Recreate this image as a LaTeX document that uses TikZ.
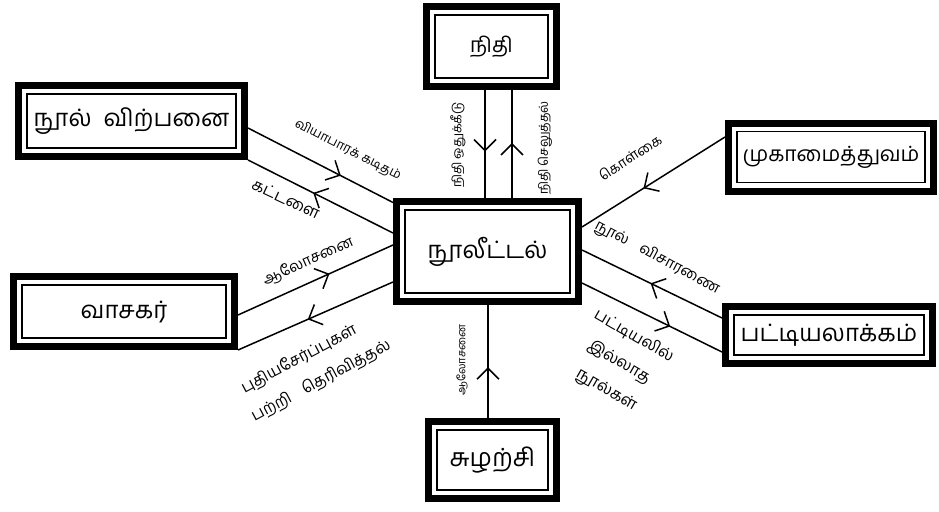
\documentclass[tikz,border=0pt]{standalone}
\usepackage{fontspec}
\newfontfamily\tamil[Script=Tamil]{Hind Madurai}
\usetikzlibrary{arrows.meta,decorations.markings,calc}
\newcommand{\fs}[1]{\tamil\fontsize{#1}{#1}\selectfont}
\tikzset{
  box/.style={draw=black, line width=7pt, inner sep=0pt,
    font=\fs{24},
    path picture={\draw[line width=1.6pt]
      ([shift={(8.5pt,8.5pt)}]path picture bounding box.south west) rectangle
      ([shift={(-8.5pt,-8.5pt)}]path picture bounding box.north east);}},
  conn/.style={line width=1.5pt},
  arr/.style={postaction={decorate}, decoration={markings,
    mark=at position #1 with {\arrow{Straight Barb[length=11pt,width=22pt,line width=1.5pt]}}}},
  lab/.style={inner sep=0pt, font=\fs{13}}
}
\begin{document}
\begin{tikzpicture}[x=1pt,y=-1pt]
\useasboundingbox (0,0) rectangle (939,511);
% boxes
\node[box, minimum width=130pt, minimum height=80pt, font=\fs{21}] (nidhi) at (491.5,46.5) {நிதி};
\node[box, minimum width=182pt, minimum height=100pt] (lib) at (487.5,251.5) {நூலீட்டல்};
\node[box, minimum width=226pt, minimum height=71pt] (vikr) at (131.5,121) {நூல்\hspace{12pt}விற்பனை};
\node[box, minimum width=205pt, minimum height=68pt, font=\fs{21}] (muk) at (831,157) {முகாமைத்துவம்};
\node[box, minimum width=221pt, minimum height=70pt] (vas) at (124,311.5) {வாசகர்};
\node[box, minimum width=207pt, minimum height=57pt] (pat) at (829,335) {பட்டியலாக்கம்};
\node[box, minimum width=128pt, minimum height=77pt, font=\fs{25}] (suz) at (492.5,460) {சுழற்சி};
% connectors
\draw[conn, arr=0.57] ($(nidhi.south)+(-6.5,0)$) -- ($(lib.north)+(-2.5,0)$);
\draw[conn, arr=0.51] ($(lib.north)+(24.5,0)$) -- ($(nidhi.south)+(20.5,0)$);
\draw[conn, arr=0.64] ($(vikr.east)+(0,7)$) -- ($(lib.west)+(0,-49)$);
\draw[conn, arr=0.55] ($(lib.west)+(0,-18.5)$) -- (vikr.south east);
\draw[conn, arr=0.57] ($(muk.west)+(0,-20)$) -- ($(lib.east)+(0,-24.5)$);
\draw[conn, arr=0.59] ($(vas.east)+(0,3.5)$) -- ($(lib.west)+(0,-6.5)$);
\draw[conn, arr=0.55] ($(lib.west)+(0,30.5)$) -- (vas.south east);
\draw[conn, arr=0.51] ($(pat.west)+(0,-17)$) -- ($(lib.east)+(0,-1.5)$);
\draw[conn, arr=0.63] ($(lib.east)+(0,31.5)$) -- ($(pat.west)+(0,17)$);
\draw[conn, arr=0.45] ($(suz.north)+(-4.5,0)$) -- ($(lib.south)+(0.5,0)$);
% labels
\node[lab, rotate=-27] (l1) at (348,150) {வியாபாரக் கடிதம்};
\node[lab, rotate=-25, font=\fs{16}] (l2) at (286,199) {கட்டளை};
\node[lab, rotate=90, font=\fs{12.5}] (l3) at (458,145) {நிதி ஒதுக்கீடு};
\node[lab, rotate=90, font=\fs{12.5}] (l4) at (545,148) {நிதி செலுத்தல்};
\node[lab, rotate=33, font=\fs{14}] (l5) at (630,157) {கொள்கை};
\node[lab, rotate=-28, font=\fs{15}] (l6) at (657,258) {நூல்\hspace{14pt}விசாரணை};
\node[lab, rotate=-30, font=\fs{16}] (l7) at (634,336) {பட்டியலில்};
\node[lab, rotate=-30, font=\fs{16}] (l8) at (619,362) {இல்லாத};
\node[lab, rotate=-30, font=\fs{16}] (l9) at (606,391) {நூல்கள்};
\node[lab, rotate=24, font=\fs{15}] (l10) at (308,261) {ஆலோசனை};
\node[lab, rotate=28, font=\fs{16}] (l11) at (299,359) {புதியசேர்ப்புகள்};
\node[lab, rotate=28, font=\fs{16}] (l12) at (321,381) {பற்றி\hspace{14pt}தெரிவித்தல்};
\node[lab, rotate=90, font=\fs{11}] (l13) at (462,360) {ஆலோசனை};
\end{tikzpicture}
\end{document}
